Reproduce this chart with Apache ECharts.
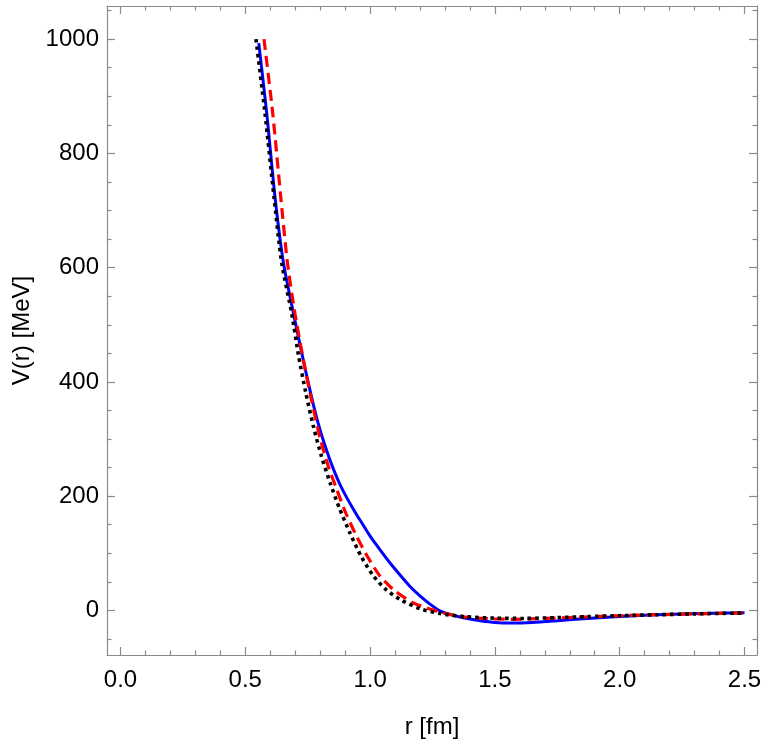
<!DOCTYPE html>
<html>
<head>
<meta charset="utf-8">
<script src="https://cdn.jsdelivr.net/npm/echarts@6/dist/echarts.min.js"></script>
<style>
html,body{margin:0;padding:0;background:#fff;}
#chart{width:763px;height:740px;}
</style>
</head>
<body>
<div id="chart"></div>
<script>
// Series data: [r (fm), V (MeV)]
const blueCurve = [
  [0.554, 993], [0.586, 870], [0.619, 724], [0.653, 608], [0.693, 520],
  [0.713, 478], [0.733, 437], [0.753, 397], [0.773, 360], [0.793, 326],
  [0.813, 297], [0.837, 266], [0.86, 240], [0.883, 217], [0.907, 197],
  [0.94, 172], [0.97, 151], [1.0, 130], [1.040, 106], [1.08, 83],
  [1.12, 62], [1.16, 42], [1.201, 25], [1.24, 11], [1.281, -1],
  [1.32, -7], [1.36, -11.5], [1.40, -15], [1.442, -18], [1.50, -21],
  [1.563, -22], [1.65, -21], [1.75, -18], [1.87, -14], [2.0, -10.5],
  [2.12, -8], [2.25, -6.2], [2.38, -5], [2.5, -4]
];
const redCurve = [
  [0.575, 1000], [0.610, 870], [0.642, 724], [0.669, 608], [0.699, 520],
  [0.733, 438], [0.767, 365], [0.80, 301], [0.833, 252], [0.867, 211],
  [0.905, 168], [0.947, 129], [0.99, 94], [1.040, 60], [1.10, 34],
  [1.174, 13], [1.25, 1], [1.335, -8.5], [1.42, -13], [1.50, -15],
  [1.58, -15.5], [1.70, -14], [1.85, -11.5], [2.0, -9.3], [2.15, -7.5],
  [2.3, -6], [2.5, -4.5]
];
const blackCurve = [
  [0.543, 1000], [0.579, 870], [0.615, 724], [0.646, 608], [0.686, 520],
  [0.713, 447], [0.743, 380], [0.773, 322], [0.805, 270], [0.840, 223],
  [0.878, 178], [0.920, 135], [0.965, 94], [1.014, 60], [1.065, 36],
  [1.121, 19], [1.20, 3], [1.281, -5.5], [1.38, -11], [1.5, -13.5],
  [1.62, -14], [1.75, -12.5], [1.87, -10.8], [2.0, -9.2], [2.15, -7.5],
  [2.3, -6], [2.5, -4.5]
];

// Axis ticks and labels
const xMajorTicks = [0, 0.5, 1.0, 1.5, 2.0, 2.5];
const xMinorTicks = [0.1,0.2,0.3,0.4,0.6,0.7,0.8,0.9,1.1,1.2,1.3,1.4,1.6,1.7,1.8,1.9,2.1,2.2,2.3,2.4];
const yMajorTicks = [0, 200, 400, 600, 800, 1000];
const yMinorTicks = [-50,50,100,150,250,300,350,450,500,550,650,700,750,850,900,950,1050];
const xTitle = 'r [fm]';
const yTitle = 'V(r) [MeV]';

const X_MIN = -0.054, X_MAX = 2.55;
const Y_MIN = -78, Y_MAX = 1058;
const frameColor = '#8a8a8a';
const fontFam = '"Liberation Sans", Arial, sans-serif';

function xAxisDef(pos, ticks, len, withLabel, withLine) {
  return {
    type: 'value', position: pos, min: X_MIN, max: X_MAX,
    axisLine: { show: withLine, onZero: false, lineStyle: { color: frameColor, width: 1.2 } },
    axisTick: { show: true, inside: true, length: len, customValues: ticks,
      lineStyle: { color: frameColor, width: 1.2 } },
    axisLabel: withLabel ? { show: true, customValues: ticks, margin: 13,
      color: '#000', fontSize: 24, fontFamily: fontFam,
      formatter: v => Number(v).toFixed(1) } : { show: false },
    splitLine: { show: false },
    name: withLabel ? xTitle : '', nameLocation: 'middle', nameGap: 60,
    nameTextStyle: { color: '#000', fontSize: 24, fontFamily: fontFam }
  };
}
function yAxisDef(pos, ticks, len, withLabel, withLine) {
  return {
    type: 'value', position: pos, min: Y_MIN, max: Y_MAX,
    axisLine: { show: withLine, onZero: false, lineStyle: { color: frameColor, width: 1.2 } },
    axisTick: { show: true, inside: true, length: len, customValues: ticks,
      lineStyle: { color: frameColor, width: 1.2 } },
    axisLabel: withLabel ? { show: true, customValues: ticks, margin: 8,
      color: '#000', fontSize: 24, fontFamily: fontFam,
      formatter: v => String(v) } : { show: false },
    splitLine: { show: false },
    name: withLabel ? yTitle : '', nameLocation: 'middle', nameGap: 70, nameRotate: 90,
    nameTextStyle: { color: '#000', fontSize: 24, fontFamily: fontFam }
  };
}

const chart = echarts.init(document.getElementById('chart'), null, { renderer: 'canvas' });
chart.setOption({
  backgroundColor: '#fff',
  animation: false,
  grid: { left: 107, top: 6, right: 6, bottom: 85, containLabel: false, outerBoundsMode: 'none' },
  xAxis: [
    xAxisDef('bottom', xMajorTicks, 8, true, true),
    xAxisDef('bottom', xMinorTicks, 4.5, false, false),
    xAxisDef('top', xMajorTicks, 8, false, true),
    xAxisDef('top', xMinorTicks, 4.5, false, false)
  ],
  yAxis: [
    yAxisDef('left', yMajorTicks, 8, true, true),
    yAxisDef('left', yMinorTicks, 4.5, false, false),
    yAxisDef('right', yMajorTicks, 8, false, true),
    yAxisDef('right', yMinorTicks, 4.5, false, false)
  ],
  series: [
    { type: 'line', data: blueCurve, xAxisIndex: 0, yAxisIndex: 0, showSymbol: false,
      smooth: 0.25, lineStyle: { color: '#0000ff', width: 3 } },
    { type: 'line', data: redCurve, xAxisIndex: 0, yAxisIndex: 0, showSymbol: false,
      smooth: 0.25, lineStyle: { color: '#ff0000', width: 3.2, type: [11, 6] } },
    { type: 'line', data: blackCurve, xAxisIndex: 0, yAxisIndex: 0, showSymbol: false,
      smooth: 0.25, lineStyle: { color: '#000000', width: 3.6, type: [3.5, 4] } }
  ]
});
</script>
</body>
</html>
